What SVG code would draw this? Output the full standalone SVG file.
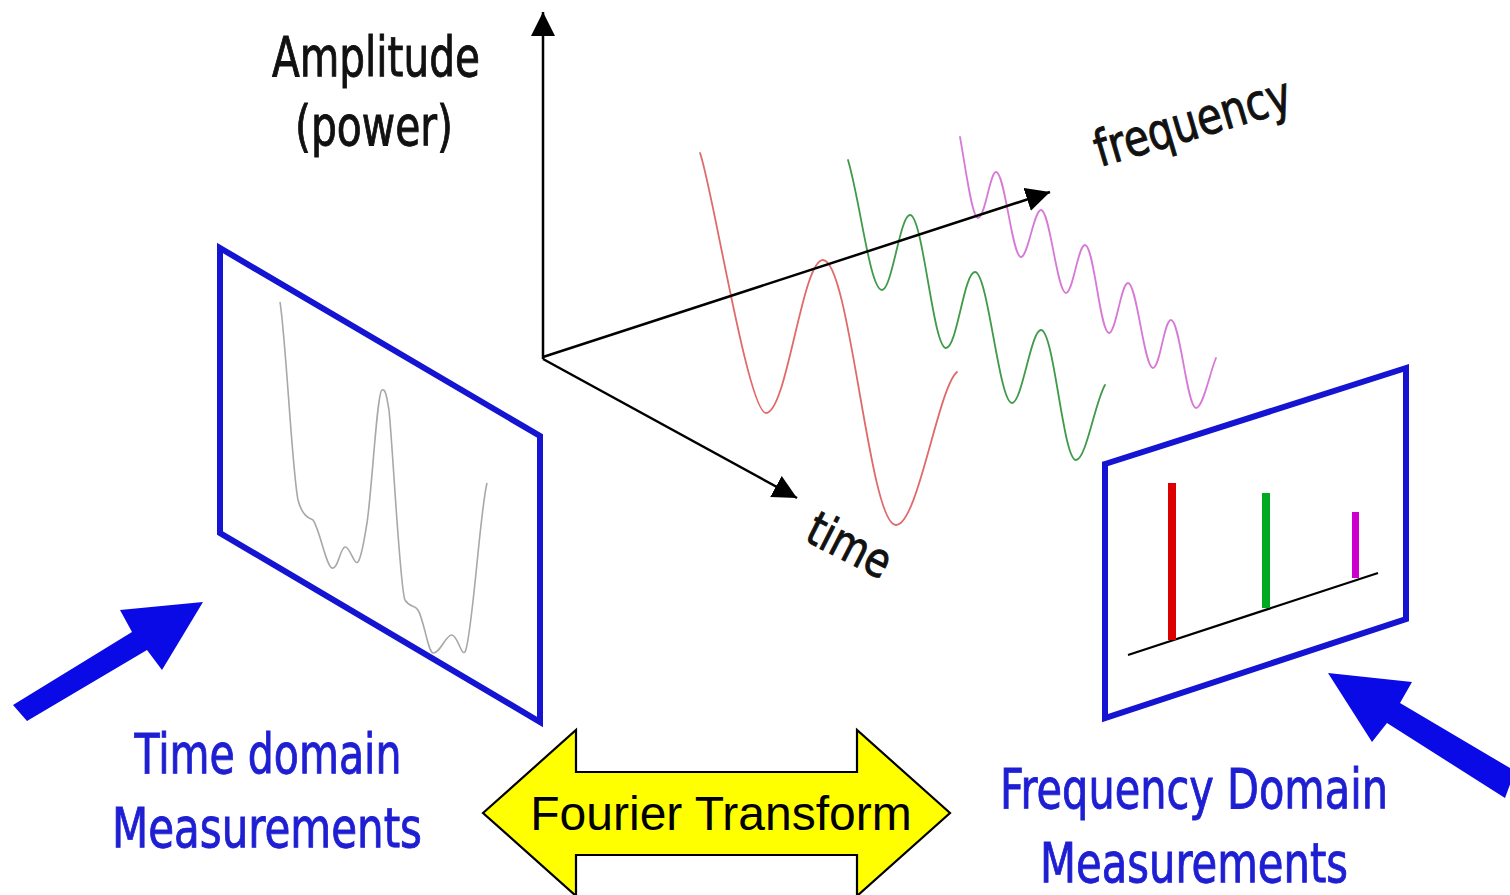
<svg xmlns="http://www.w3.org/2000/svg" width="1510" height="895" viewBox="0 0 1510 895">
<defs>
<style>
.axis{stroke:#000;stroke-width:2.5;fill:none}
.panel{fill:none;stroke:#1414d2;stroke-width:6;stroke-linejoin:miter}
.wave{fill:none;stroke-width:1.8;stroke-linecap:round}
.lbl{font-family:"Liberation Sans Narrow","DejaVu Sans Condensed","Liberation Sans",sans-serif;fill:#111;stroke:#111;stroke-width:0.9}
.blue{font-family:"Liberation Sans Narrow","DejaVu Sans Condensed","Liberation Sans",sans-serif;fill:#1e1ed2;stroke:#1e1ed2;stroke-width:0.9}
.bigarrow{fill:#0a0ae6}
</style>
<marker id="ah" viewBox="0 0 24 24" refX="24" refY="12" markerWidth="24" markerHeight="24" markerUnits="userSpaceOnUse" orient="auto">
<path d="M0,0 L24,12 L0,24 z" fill="#000"/>
</marker>
</defs>
<rect width="1510" height="895" fill="#fff"/>

<g id="waves">
<path class="wave" stroke="#e06a6a" d="M700,153 C712,185 748,413 766,413 C787,413 802,260 823,260 C850,260 869,525 896,525 C918,525 938,388 957,372"/>
<path class="wave" stroke="#3f9a4a" d="M848,160 C860,200 870,290 882,290 C892,290 900,215 910,215 C923,215 933,348 946,348 C957,348 964,272 975,272 C988,272 999,403 1012,403 C1022,403 1031,330 1041,330 C1054,330 1063,460 1076,460 C1086,460 1095,402 1105,385"/>
<path class="wave" stroke="#d77ad7" d="M960,137 C966,170 972,218 978,218 C985,218 990,172 996,172 C1005,172 1012,257 1021,257 C1028,257 1034,210 1041,210 C1050,210 1057,293 1066,293 C1073,293 1078,245 1085,245 C1094,245 1100,333 1109,333 C1116,333 1121,283 1128,283 C1137,283 1144,368 1153,368 C1160,368 1164,320 1171,320 C1180,320 1187,408 1196,408 C1203,408 1210,372 1216,358"/>
</g>

<g id="axes">
<line class="axis" x1="543" y1="359" x2="543" y2="12" marker-end="url(#ah)"/>
<line class="axis" x1="543" y1="357" x2="1050" y2="192" marker-end="url(#ah)"/>
<line class="axis" x1="543" y1="359" x2="797" y2="498" marker-end="url(#ah)"/>
</g>

<g id="axis-labels">
<text class="lbl" x="376" y="76" font-size="55" text-anchor="middle" textLength="208" lengthAdjust="spacingAndGlyphs">Amplitude</text>
<text class="lbl" x="374" y="145" font-size="55" text-anchor="middle" textLength="158" lengthAdjust="spacingAndGlyphs">(power)</text>
<text class="lbl" font-size="50" transform="translate(1100,167) rotate(-16.5)" textLength="203" lengthAdjust="spacingAndGlyphs">frequency</text>
<text class="lbl" font-size="48" transform="translate(803,540) rotate(27)" textLength="88" lengthAdjust="spacingAndGlyphs">time</text>
</g>

<g id="time-panel">
<polygon class="panel" points="220,248 540,436 540,722 220,533"/>
<path fill="none" stroke="#a8a8a8" stroke-width="1.6" d="M280,302 C286,340 292,470 298,500 C302,515 308,518 313,520 C320,530 326,566 332,568 C338,570 340,548 345,547 C350,546 354,566 358,562 C362,556 364,540 367,523 C372,490 377,392 382,390 C386,388 387,400 389,410 C393,450 400,590 405,600 C410,608 414,604 418,610 C424,620 428,652 433,653 C440,654 446,634 452,635 C458,636 461,656 465,652 C472,640 480,510 487,483"/>
</g>

<g id="freq-panel">
<polygon class="panel" stroke-width="5" points="1105,464 1406,368 1406,619 1105,718"/>
<line x1="1128" y1="655" x2="1378" y2="573" stroke="#000" stroke-width="2.2"/>
<rect x="1168" y="483" width="8" height="157" fill="#dd0000"/>
<rect x="1262" y="493" width="8" height="115" fill="#00aa20"/>
<rect x="1352" y="512" width="7" height="66" fill="#cc00cc"/>
</g>

<g id="arrow-left">
<polygon class="bigarrow" points="13,705 132,632 120,610 203,602 162,670 147,650 27,721"/>
</g>
<g id="arrow-right">
<polygon class="bigarrow" points="1328,673 1412,682 1400,703 1515,771 1505,798 1387,723 1372,742"/>
</g>

<g id="time-label">
<text class="blue" x="268" y="773" font-size="55" text-anchor="middle" textLength="267" lengthAdjust="spacingAndGlyphs">Time domain</text>
<text class="blue" x="267" y="847" font-size="55" text-anchor="middle" textLength="310" lengthAdjust="spacingAndGlyphs">Measurements</text>
</g>

<g id="freq-label">
<text class="blue" x="1194" y="808" font-size="55" text-anchor="middle" textLength="388" lengthAdjust="spacingAndGlyphs">Frequency Domain</text>
<text class="blue" x="1194" y="882" font-size="55" text-anchor="middle" textLength="308" lengthAdjust="spacingAndGlyphs">Measurements</text>
</g>

<g id="fourier">
<polygon points="483,813 576,730 576,772 857,772 857,730 950,813 857,896 857,855 576,855 576,896" fill="#ffff00" stroke="#000" stroke-width="2.2" stroke-linejoin="miter"/>
<text x="721" y="830" font-family="'Liberation Sans',Arial,sans-serif" font-size="48" text-anchor="middle" fill="#000">Fourier Transform</text>
</g>
</svg>
